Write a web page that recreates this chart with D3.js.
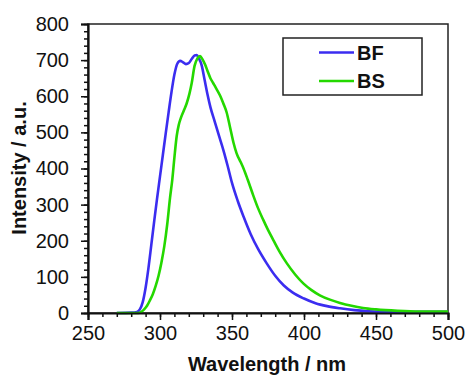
<!DOCTYPE html>
<html>
<head>
<meta charset="utf-8">
<script src="https://cdn.jsdelivr.net/npm/d3@7"></script>
<style>
  body { margin: 0; background: #fff; }
  svg { display: block; font-family: "Liberation Sans", Arial, sans-serif; }
</style>
</head>
<body>
<div id="chart"></div>
<script>

// emission spectra
var bfWave = [270, 280, 284, 286, 288, 290, 292, 294, 296, 298, 300, 302, 304, 306, 308, 310, 312, 314, 316, 318, 320, 322, 324, 325.5, 327, 329, 331, 333, 335, 338, 341, 344, 347, 350, 354, 358, 363, 368, 374, 380, 386, 392, 400, 408, 416, 425, 435, 445, 460, 480, 500];
var bfInt  = [0, 1, 3, 10, 30, 70, 125, 190, 255, 318, 378, 438, 498, 556, 612, 660, 690, 698, 694, 689, 692, 703, 713, 714, 705, 685, 645, 605, 570, 530, 490, 451, 407, 360, 310, 267, 218, 178, 138, 103, 76, 57, 40, 27, 19, 13, 8, 5, 3, 3, 3];

var bsWave = [270, 285, 287, 289, 291, 293, 295, 297, 299, 301, 303, 305, 307, 308.5, 310, 311.6, 313, 314.5, 316.5, 318.5, 320.5, 322, 324, 326, 327.8, 329.5, 331.3, 333, 335, 337, 339, 341.7, 344, 346.3, 348.6, 351, 353.2, 356, 358, 361, 364.8, 368, 371.8, 375, 378.7, 383, 388, 394, 399.5, 405, 411, 418, 425, 433, 441, 450, 465, 480, 500];
var bsInt  = [0, 0, 3, 10, 20, 35, 52, 75, 103, 140, 185, 245, 320, 368, 430, 490, 520, 540, 560, 580, 608, 636, 684, 705, 711, 702, 688, 670, 650, 636, 622, 602, 580, 555, 515, 472, 442, 418, 400, 368, 325, 291, 257, 230, 202, 170, 138, 106, 82, 64, 49, 37, 28, 20, 14, 10, 6, 4, 4];

var seriesNames  = ['BF', 'BS'];
var seriesColors = ['#3b2df0', '#24d800'];

var xTicks = [250, 300, 350, 400, 450, 500];
var yTicks = [0, 100, 200, 300, 400, 500, 600, 700, 800];

var width = 466,
    height = 376;

var margin = { left: 88, right: 18, top: 24, bottom: 63 };

var svg = d3.select('#chart').append('svg')
    .attr('width', width)
    .attr('height', height);

var x = d3.scaleLinear()
    .domain([ 250, 500 ])
    .range([ margin.left, width - margin.right ]);

var y = d3.scaleLinear()
    .domain([ 0, 800 ])
    .range([ height - margin.bottom, margin.top ]);

// frame on top / right
svg.append('rect')
    .attr('x', x(250))
    .attr('y', y(800))
    .attr('width', x(500) - x(250))
    .attr('height', y(0) - y(800))
    .attr('fill', 'none')
    .attr('stroke', '#222')
    .attr('stroke-width', 1.5);

// curves
var line = d3.line()
    .x( function ( d ) { return x( d[0] ); })
    .y( function ( d ) { return y( d[1] ); })
    .curve( d3.curveMonotoneX );

var series = [
    d3.zip( bfWave, bfInt ),
    d3.zip( bsWave, bsInt )
];

svg.selectAll('.spectrum')
    .data( series )
    .enter().append('path')
    .attr('class', 'spectrum')
    .attr('d', line)
    .attr('fill', 'none')
    .attr('stroke', function ( d, i ) { return seriesColors[ i ]; })
    .attr('stroke-width', 2.6)
    .attr('stroke-linejoin', 'round');

// axes (minor ticks every 10 nm / 20 units, then majors with labels)
var xAxis = svg.append('g')
    .attr('transform', 'translate(0,' + y(0) + ')');

xAxis.call( d3.axisBottom( x ).tickValues( d3.range( 250, 501, 10 ) ).tickSize( 4 ).tickFormat('') );
xAxis.call( function ( g ) { g.select('.domain').remove(); });

var xMajor = svg.append('g')
    .attr('transform', 'translate(0,' + y(0) + ')')
    .call( d3.axisBottom( x ).tickValues( xTicks ).tickSize( 7 ).tickPadding( 6 ) );

var yAxis = svg.append('g')
    .attr('transform', 'translate(' + x(250) + ',0)');

yAxis.call( d3.axisLeft( y ).tickValues( d3.range( 0, 801, 20 ) ).tickSize( 4 ).tickFormat('') );
yAxis.call( function ( g ) { g.select('.domain').remove(); });

var yMajor = svg.append('g')
    .attr('transform', 'translate(' + x(250) + ',0)')
    .call( d3.axisLeft( y ).tickValues( yTicks ).tickSize( 7 ).tickPadding( 12 ) );

svg.selectAll('.tick line')
    .attr('stroke', '#111')
    .attr('stroke-width', 1.5);

svg.selectAll('.domain')
    .attr('stroke', '#111')
    .attr('stroke-width', 2.2);

xMajor.selectAll('.tick text')
    .attr('font-size', 20)
    .attr('fill', '#111')
    .attr('font-family', '"Liberation Sans", Arial, sans-serif');

yMajor.selectAll('.tick text')
    .attr('font-size', 20)
    .attr('fill', '#111')
    .attr('font-family', '"Liberation Sans", Arial, sans-serif');

// axis titles
svg.append('text')
    .attr('x', 267)
    .attr('y', 371)
    .attr('text-anchor', 'middle')
    .attr('font-size', 20)
    .attr('font-weight', 'bold')
    .attr('fill', '#111')
    .text('Wavelength / nm');

svg.append('text')
    .attr('transform', 'translate(26,168) rotate(-90)')
    .attr('text-anchor', 'middle')
    .attr('font-size', 20)
    .attr('font-weight', 'bold')
    .attr('fill', '#111')
    .text('Intensity / a.u.');

// legend
var legend = svg.append('g');

legend.append('rect')
    .attr('x', 283)
    .attr('y', 38)
    .attr('width', 139)
    .attr('height', 57)
    .attr('fill', '#fff')
    .attr('stroke', '#222')
    .attr('stroke-width', 1.5);

var items = legend.selectAll('.item')
    .data( seriesNames )
    .enter().append('g')
    .attr('class', 'item')
    .attr('transform', function ( d, i ) { return 'translate(0,' + ( 52.5 + i * 28.5 ) + ')'; });

items.append('line')
    .attr('x1', 319)
    .attr('x2', 354)
    .attr('stroke', function ( d, i ) { return seriesColors[ i ]; })
    .attr('stroke-width', 2.6);

items.append('text')
    .attr('x', 357)
    .attr('y', 7)
    .attr('font-size', 20)
    .attr('font-weight', 'bold')
    .attr('fill', '#111')
    .text( function ( d ) { return d; });

</script>
</body>
</html>
